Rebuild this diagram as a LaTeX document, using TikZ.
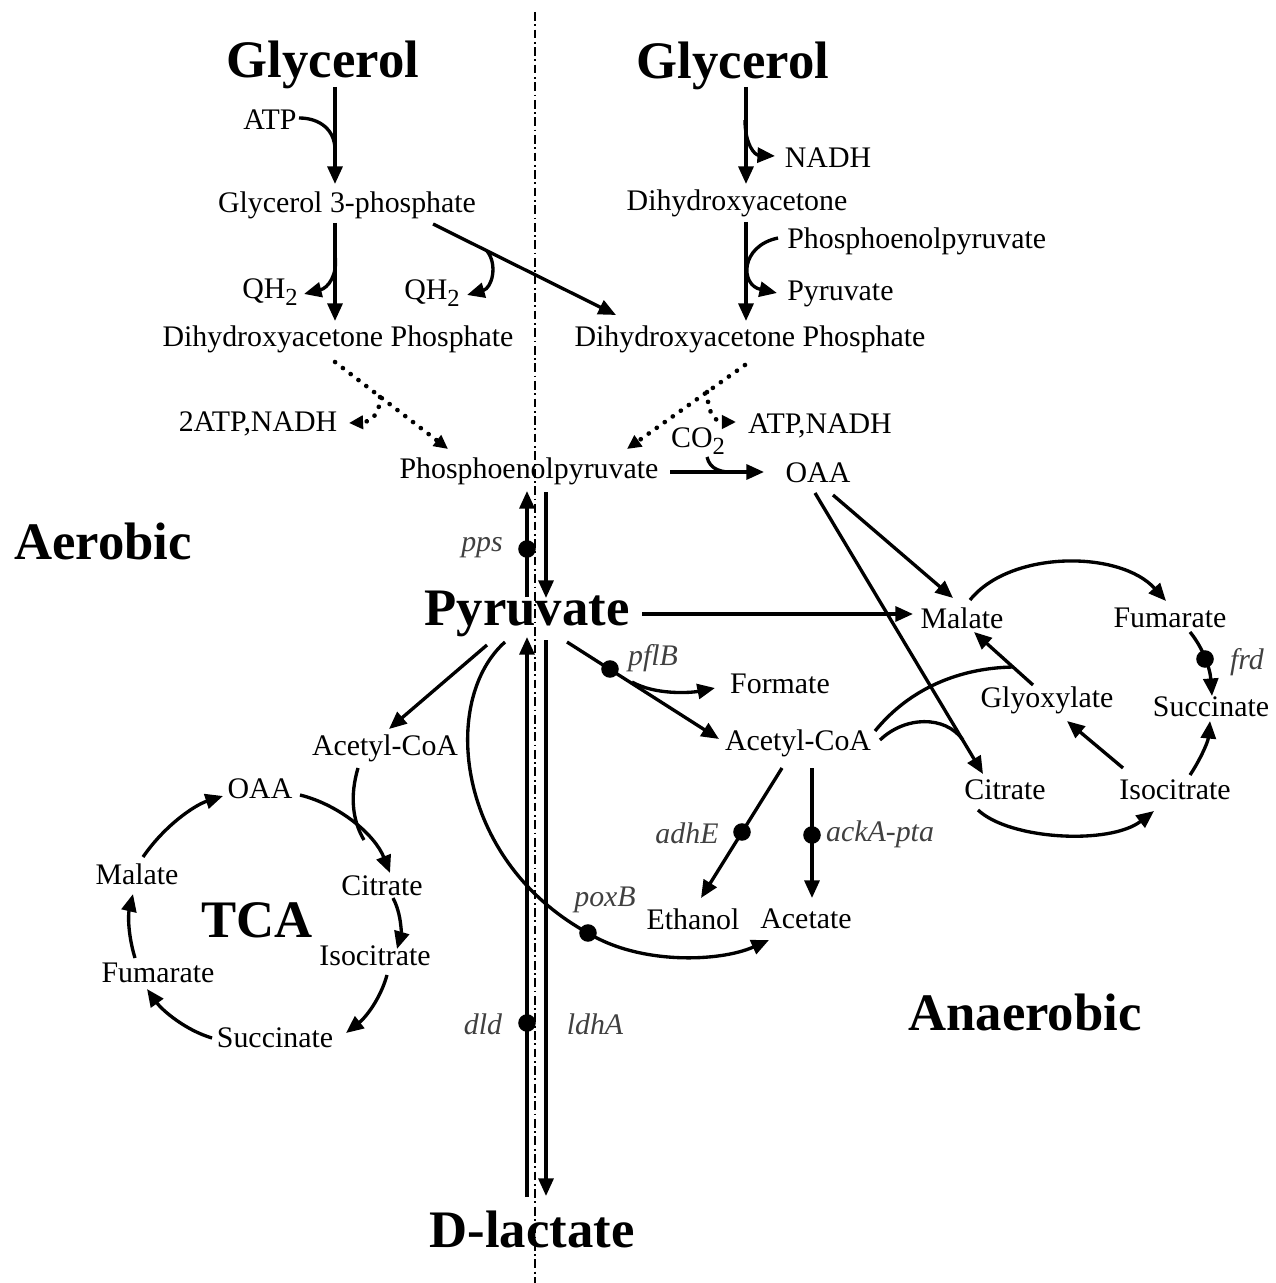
\documentclass[tikz,border=0pt]{standalone}
\usepackage{fontspec}
\setmainfont{Liberation Serif}
\usetikzlibrary{arrows.meta}
\newcommand{\subtwo}{\raisebox{-0.5ex}{\fontsize{14}{14}\selectfont 2}}
\begin{document}
\begin{tikzpicture}[x=0.02cm,y=-0.02cm,
 txt/.style={font=\fontsize{17}{20}\selectfont, inner sep=0pt},
 big/.style={font=\fontsize{30}{34}\selectfont\bfseries, inner sep=0pt},
 gene/.style={font=\fontsize{17}{20}\selectfont\itshape, text=black!75, inner sep=0pt},
 ln/.style={line width=1.9pt},
 arr/.style={ln, -{Triangle[length=10pt,width=8.5pt]}},
 dotarr/.style={line width=2.6pt, dash pattern=on 0.1pt off 5.5pt, line cap=round, -{Triangle[length=8pt,width=7.5pt]}},
 enz/.style={circle, fill=black, inner sep=0pt, minimum size=10pt},
 sep/.style={line width=1.1pt, dash pattern=on 5pt off 2pt on 1pt off 2pt}]
\useasboundingbox (0,0) rectangle (1275,1283);

% ---------- separator ----------
\coordinate (sepT) at (535,12);
\coordinate (sepB) at (535,1283);
\draw[sep] (sepT) -- (sepB);

% ---------- texts ----------
\node[big] (gL) at (323,65) {Glycerol};
\node[txt] (atp) at (270,120) {ATP};
\node[txt] (g3p) at (347,205) {Glycerol 3-phosphate};
\node[txt] (qh1) at (270,292) {QH\subtwo};
\node[txt] (qh2) at (432,293) {QH\subtwo};
\node[txt] (dhapL) at (338,339) {Dihydroxyacetone Phosphate};
\node[txt] (atpn1) at (258,424) {2ATP,NADH};
\node[txt] (pep) at (529,471) {Phosphoenolpyruvate};

\node[big] (gR) at (733,66) {Glycerol};
\node[txt] (nadh) at (828,158) {NADH};
\node[txt] (dha) at (737,203) {Dihydroxyacetone};
\node[txt, anchor=west] (pep2) at (787,241) {Phosphoenolpyruvate};
\node[txt, anchor=west] (pyr2) at (787,294) {Pyruvate};
\node[txt] (dhapR) at (750,339) {Dihydroxyacetone Phosphate};
\node[txt] (atpn2) at (820,426) {ATP,NADH};
\node[txt] (co2) at (698,441) {CO\subtwo};
\node[txt] (oaaR) at (818,473) {OAA};

\node[big] (aer) at (103,541) {Aerobic};
\node[big] (anaer) at (1025,1012) {Anaerobic};
\node[big] (pyr) at (527,614) {Pyruvate};
\node[big] (tca) at (257,920) {TCA};
\node[big] (dlac) at (532,1229) {D-lactate};

\node[gene] (pps) at (482,548) {pps};
\node[gene] (dld) at (483,1024) {dld};
\node[gene] (ldhA) at (595,1024) {ldhA};
\node[gene] (pflB) at (653,658) {pflB};
\node[gene] (adhE) at (687,833) {adhE};
\node[gene] (ackA) at (880,834) {ackA-pta};
\node[gene] (poxB) at (605,900) {poxB};
\node[gene] (frd) at (1247,662) {frd};

\node[txt] (form) at (780,684) {Formate};
\node[txt] (acR) at (798,743) {Acetyl-CoA};
\node[txt] (eth) at (693,919) {Ethanol};
\node[txt] (ace) at (806,919) {Acetate};

\node[txt] (acL) at (385,748) {Acetyl-CoA};
\node[txt] (oaaL) at (260,789) {OAA};
\node[txt] (citL) at (382,886) {Citrate};
\node[txt] (isoL) at (375,956) {Isocitrate};
\node[txt] (sucL) at (275,1038) {Succinate};
\node[txt] (fumL) at (158,973) {Fumarate};
\node[txt] (malL) at (137,874) {Malate};

\node[txt] (malR) at (962,618) {Malate};
\node[txt] (fumR) at (1170,618) {Fumarate};
\node[txt] (sucR) at (1211,707) {Succinate};
\node[txt] (glx) at (1047,700) {Glyoxylate};
\node[txt] (citR) at (1005,790) {Citrate};
\node[txt] (isoR) at (1175,790) {Isocitrate};

% ---------- connector end points ----------
\coordinate (a1) at (335,87);   \coordinate (a2) at (335,184);
\coordinate (atpS) at (299,118); \coordinate (atpJ) at (335,150);
\coordinate (b1) at (335,223);  \coordinate (b2) at (335,321);
\coordinate (q1J) at (335,255); \coordinate (q1E) at (304,294);
\coordinate (c1) at (433,224);  \coordinate (c2) at (616,315);
\coordinate (q2J) at (487,251); \coordinate (q2E) at (467,295);
\coordinate (d1) at (335,362);  \coordinate (d2) at (448,449);
\coordinate (dLJ) at (380,397); \coordinate (dLE) at (349,423);

\coordinate (e1) at (746,87);   \coordinate (e2) at (746,184);
\coordinate (nJ) at (745,120);  \coordinate (nE) at (775,156);
\coordinate (f1) at (746,222);  \coordinate (f2) at (746,321);
\coordinate (pS) at (778,238);  \coordinate (pE) at (777,293);
\coordinate (h1) at (745,365);  \coordinate (h2) at (627,449);
\coordinate (dRJ) at (707,392); \coordinate (dRE) at (736,422);
\coordinate (k1) at (670,472);  \coordinate (k2) at (764,472);
\coordinate (coS) at (707,457); \coordinate (coE) at (737,472);
\coordinate (m1) at (833,495);  \coordinate (m2) at (953,598);
\coordinate (n1) at (815,493);  \coordinate (n2) at (983,774);

\coordinate (u1) at (527,597);  \coordinate (u2) at (527,491);
\coordinate (v1) at (546,492);  \coordinate (v2) at (546,598);
\coordinate (w1) at (642,614);  \coordinate (w2) at (913,614);
\coordinate (x1) at (487,645);  \coordinate (x2) at (389,729);
\coordinate (y1) at (567,642);  \coordinate (y2) at (719,739);
\coordinate (fS) at (632,682);  \coordinate (fE) at (715,688);
\coordinate (lu1) at (527,1197); \coordinate (lu2) at (527,637);
\coordinate (ld1) at (546,640); \coordinate (ld2) at (546,1196);
\coordinate (pxS) at (505,642); \coordinate (pxM) at (588,933); \coordinate (pxE) at (769,940);
\coordinate (ad1) at (782,768); \coordinate (ad2) at (701,898);
\coordinate (ak1) at (812,768); \coordinate (ak2) at (812,898);
\coordinate (ac1S) at (875,731); \coordinate (ac1E) at (1013,667);
\coordinate (ac2S) at (880,740); \coordinate (ac2E) at (963,740);

\coordinate (r1) at (970,600);  \coordinate (r2) at (1166,601);
\coordinate (r3) at (1190,632); \coordinate (r4) at (1212,696);
\coordinate (r5) at (1190,775); \coordinate (r6) at (1210,721);
\coordinate (r7) at (1123,768); \coordinate (r8) at (1067,721);
\coordinate (r9) at (1033,685); \coordinate (r10) at (974,632);
\coordinate (r11) at (978,810); \coordinate (r12) at (1154,811);

\coordinate (t1) at (300,795);  \coordinate (t2) at (390,873);
\coordinate (tA) at (358,768);  \coordinate (tB) at (364,840);
\coordinate (t3) at (393,898);  \coordinate (t4) at (397,949);
\coordinate (t5) at (387,975);  \coordinate (t6) at (346,1033);
\coordinate (t7) at (212,1038); \coordinate (t8) at (147,989);
\coordinate (t9) at (135,958);  \coordinate (t10) at (133,894);
\coordinate (t11) at (143,857); \coordinate (t12) at (223,796);

% ---------- aerobic glycerol branch ----------
\draw[arr] (a1) -- (a2);
\draw[ln] (atpS) .. controls (320,118) and (335,130) .. (atpJ);
\draw[arr] (b1) -- (b2);
\draw[arr] (q1J) .. controls (338,275) and (328,288) .. (q1E);
\draw[arr] (c1) -- (c2);
\draw[arr] (q2J) .. controls (498,265) and (492,288) .. (q2E);
\draw[dotarr] (d1) -- (d2);
\draw[dotarr] (dLJ) .. controls (380,415) and (370,422) .. (dLE);

% ---------- anaerobic glycerol branch ----------
\draw[arr] (e1) -- (e2);
\draw[arr] (nJ) .. controls (745,145) and (755,155) .. (nE);
\draw[arr] (f1) -- (f2);
\draw[arr] (pS) .. controls (740,246) and (740,285) .. (pE);
\draw[dotarr] (h1) -- (h2);
\draw[dotarr] (dRJ) .. controls (708,415) and (716,422) .. (dRE);
\draw[arr] (k1) -- (k2);
\draw[ln] (coS) .. controls (710,470) and (722,473) .. (coE);
\draw[arr] (m1) -- (m2);
\draw[arr] (n1) -- (n2);

% ---------- pyruvate node ----------
\draw[arr] (u1) -- (u2);
\node[enz] (dpps) at (527,549) {};
\draw[arr] (v1) -- (v2);
\draw[arr] (w1) -- (w2);
\draw[arr] (x1) -- (x2);
\draw[arr] (y1) -- (y2);
\node[enz] (dpfl) at (610,669) {};
\draw[arr] (fS) .. controls (655,695) and (690,693) .. (fE);
\draw[arr] (lu1) -- (lu2);
\node[enz] (ddld) at (527,1023) {};
\draw[arr] (ld1) -- (ld2);
\draw[arr] (pxS) .. controls (440,700) and (455,860) .. (pxM) .. controls (640,965) and (720,962) .. (pxE);
\node[enz] (dpox) at (pxM) {};
\draw[arr] (ad1) -- (ad2);
\node[enz] (dadh) at (742,832) {};
\draw[arr] (ak1) -- (ak2);
\node[enz] (dack) at (812,835) {};
\draw[ln] (ac1S) .. controls (910,688) and (960,668) .. (ac1E);
\draw[ln] (ac2S) .. controls (905,716) and (945,715) .. (ac2E);

% ---------- anaerobic cycle ----------
\draw[arr] (r1) .. controls (1010,550) and (1120,550) .. (r2);
\draw[arr] (r3) .. controls (1203,648) and (1210,668) .. (r4);
\node[enz] (dfrd) at (1205,659) {};
\draw[arr] (r5) .. controls (1200,760) and (1208,742) .. (r6);
\draw[arr] (r7) -- (r8);
\draw[arr] (r9) -- (r10);
\draw[arr] (r11) .. controls (1010,840) and (1110,845) .. (r12);

% ---------- TCA cycle ----------
\draw[arr] (t1) .. controls (340,805) and (375,835) .. (t2);
\draw[ln] (tA) .. controls (350,795) and (352,820) .. (tB);
\draw[arr] (t3) .. controls (402,915) and (401,935) .. (t4);
\draw[arr] (t5) .. controls (380,1000) and (365,1018) .. (t6);
\draw[arr] (t7) .. controls (185,1030) and (162,1010) .. (t8);
\draw[arr] (t9) .. controls (128,935) and (128,915) .. (t10);
\draw[arr] (t11) .. controls (165,825) and (195,805) .. (t12);
\end{tikzpicture}
\end{document}
